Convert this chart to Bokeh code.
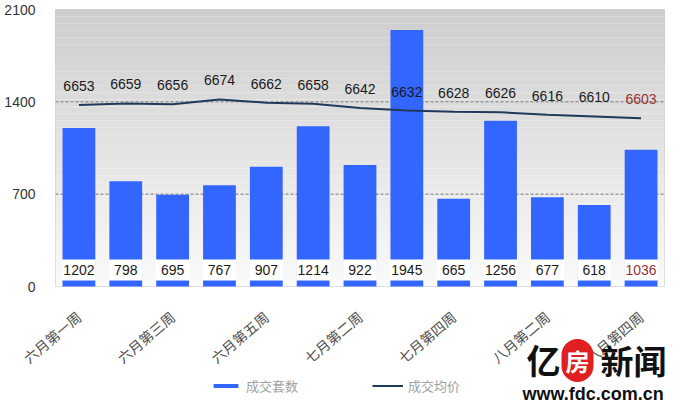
import math
from bokeh.plotting import figure
from bokeh.models import (ColumnDataSource, Range1d, Legend, LegendItem, Label,
                          BoxAnnotation, FixedTicker)
from bokeh.core.properties import value
from bokeh.embed import file_html
from bokeh.resources import INLINE

weeks = ["六月第一周", "六月第二周", "六月第三周", "六月第四周", "六月第五周",
         "七月第一周", "七月第二周", "七月第三周", "七月第四周",
         "八月第一周", "八月第二周", "八月第三周", "八月第四周"]
units = [1202, 798, 695, 767, 907, 1214, 922, 1945, 665, 1256, 677, 618, 1036]
prices = [6653, 6659, 6656, 6674, 6662, 6658, 6642, 6632, 6628, 6626, 6616, 6610, 6603]
y_ticks = [0, 700, 1400, 2100]
grid_ticks = [700, 1400]
series_names = ["成交套数", "成交均价"]

FONT = "Liberation Sans"
CJK = "Noto Sans CJK SC"
BAR = "#3366ff"
LINE = "#1f3a5c"
DARKRED = "#993333"

n = len(weeks)
xs = list(range(n))
label_colors = ["#1a1a1a"] * (n - 1) + [DARKRED]
src = ColumnDataSource(dict(
    x=xs, units=units, price=prices,
    units_str=[str(v) for v in units], price_str=[str(v) for v in prices],
    lc=label_colors,
))

W, H = 674, 404
PLOT_W = 609          # pixel width of the plot box
PLOT_H = 277          # pixel height of the 0..2100 plot box
LEFT = 55             # pixels left of the plot box (y tick labels)
RIGHT = 10            # pixels right of the plot box
ABOVE = 9             # pixels above the plot box
BELOW = 118           # pixels below the plot box (axis labels, legend, logo)
Y_MAX = 2100
P_LO, P_HI = 5971, 7012
ypp = Y_MAX / PLOT_H
ppp = (P_HI - P_LO) / PLOT_H
xpp = n / PLOT_W
X0, X1 = -0.5, n - 0.5

p = figure(x_range=Range1d(X0 - LEFT * xpp, X1 + RIGHT * xpp),
           y_range=Range1d(-BELOW * ypp, Y_MAX + ABOVE * ypp), width=W, height=H,
           output_backend="svg", toolbar_location=None,
           min_border_left=0, min_border_right=0, min_border_top=0,
           min_border_bottom=0)
p.extra_y_ranges = {"price": Range1d(P_LO - BELOW * ppp, P_HI + ABOVE * ppp)}

# gradient background inside the plot box
p.background_fill_color = "white"
p.border_fill_color = "white"
nb = 40
for i in range(nb):
    t = i / (nb - 1)
    g = int(250 - (250 - 206) * t)
    p.add_layout(BoxAnnotation(bottom=Y_MAX * i / nb, top=Y_MAX * (i + 1) / nb,
                               left=X0, right=X1,
                               fill_color=(g, g, g), fill_alpha=1.0,
                               line_color=None, level="image"))
p.outline_line_color = None
p.add_layout(BoxAnnotation(bottom=0, top=Y_MAX, left=X0, right=X1, fill_alpha=0,
                           line_color="#9a9a9a", line_width=1, level="underlay"))

p.xgrid.grid_line_color = None
p.ygrid.grid_line_color = None
p.segment(x0=[X0] * len(grid_ticks), x1=[X1] * len(grid_ticks),
          y0=grid_ticks, y1=grid_ticks, line_color="#7a7a7a",
          line_dash="3 2", line_width=1, level="underlay")

bars = p.vbar(x="x", top="units", width=0.7, source=src,
              fill_color=BAR, line_color=None)

line = p.line(x="x", y="price", source=src, y_range_name="price",
              line_color=LINE, line_width=2)

# bar value label boxes
box_y = 16.5 * ypp
p.rect(x="x", y=box_y, width=0.72, height=21, height_units="screen",
       source=src, fill_color="white", line_color=None)
p.text(x="x", y=0, text="units_str", source=src, y_offset=-17,
       text_align="center", text_baseline="middle",
       text_font=value(FONT), text_font_size="14px", text_color="lc")

p.text(x="x", y="price", text="price_str", source=src, y_range_name="price",
       y_offset=-19, text_align="center", text_baseline="middle",
       text_font=value(FONT), text_font_size="14px", text_color="lc")

# axes
p.yaxis.fixed_location = X0
p.yaxis.ticker = FixedTicker(ticks=y_ticks)
p.yaxis.axis_line_color = None
p.yaxis.major_tick_line_color = None
p.yaxis.minor_tick_line_color = None
p.yaxis.major_label_text_font = FONT
p.yaxis.major_label_text_font_size = "14px"
p.yaxis.major_label_text_color = "#333333"
p.yaxis.major_label_standoff = 14

p.xaxis.fixed_location = 0
p.xaxis.ticker = FixedTicker(ticks=xs[::2])
p.xaxis.major_label_overrides = {i: weeks[i] for i in xs[::2]}
p.xaxis.axis_line_color = None
p.xaxis.major_tick_line_color = None
p.xaxis.minor_tick_line_color = None
p.xaxis.major_label_orientation = 0.7
p.xaxis.major_label_text_font = CJK
p.xaxis.major_label_text_font_size = "14px"
p.xaxis.major_label_text_color = "#505050"
p.xaxis.major_label_standoff = 22

legend = Legend(items=[LegendItem(label=series_names[0], renderers=[bars]),
                       LegendItem(label=series_names[1], renderers=[line])],
                orientation="horizontal", location=(210, 9),
                glyph_width=31, glyph_height=5, spacing=74, padding=0, margin=0,
                label_standoff=5,
                label_text_font=CJK, label_text_font_size="13px",
                label_text_color="#a0a0a0", border_line_color=None,
                background_fill_alpha=0)
p.add_layout(legend, "center")

# watermark
p.add_layout(Label(x=526, y=21, x_units="screen", y_units="screen", text="亿",
                   text_font=CJK, text_font_size="34px", text_font_style="bold",
                   text_color="#111111"))
p.add_layout(Label(x=577, y=44, x_units="screen", y_units="screen", text="房",
                   text_font=CJK, text_font_size="24px", text_font_style="bold",
                   text_color="white", text_align="center", text_baseline="middle",
                   background_fill_color="#e02020", border_radius=16, padding=4))
p.add_layout(Label(x=600, y=21, x_units="screen", y_units="screen", text="新闻",
                   text_font=CJK, text_font_size="33px", text_font_style="bold",
                   text_color="#111111"))
p.add_layout(Label(x=522, y=1, x_units="screen", y_units="screen",
                   text="www.fdc.com.cn", text_font=FONT, text_font_size="18px",
                   text_font_style="bold", text_color="#111111"))

open("out.html", "w").write(file_html(p, INLINE))
